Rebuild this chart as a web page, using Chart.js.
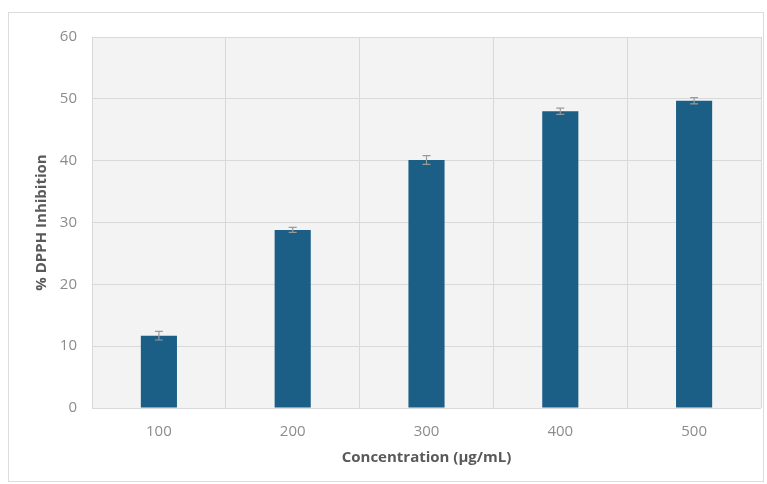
<!DOCTYPE html>
<html>
<head>
<meta charset="utf-8">
<script src="https://cdn.jsdelivr.net/npm/chart.js@4"></script>
<style>
  body { margin: 0; background: #fff; }
  #frame {
    position: absolute; left: 8px; top: 12px;
    width: 756px; height: 470px;
    border: 1px solid #dcdcdc; box-sizing: border-box;
  }
  #wrap { position: relative; width: 754px; height: 468px; }
</style>
</head>
<body>
<div id="frame"><div id="wrap"><canvas id="dpphChart"></canvas></div></div>
<script>
const concentrations = ['100', '200', '300', '400', '500'];
const inhibition =     [11.7, 28.8, 40.1, 48.0, 49.7];
const errors =         [0.7, 0.4, 0.7, 0.5, 0.5];
const yTicks =         [0, 10, 20, 30, 40, 50, 60];

const tickColor = '#8c8c8c';
const titleColor = '#595959';

// grey plot background
const plotBg = {
    id: 'plotBg',
    beforeDraw(chart) {
        const a = chart.chartArea;
        const ctx = chart.ctx;
        ctx.save();
        ctx.fillStyle = '#f3f3f3';
        ctx.fillRect(a.left, a.top, a.right - a.left, a.bottom - a.top);
        ctx.restore();
    }
};

// small error bars on top of each bar
const errorBars = {
    id: 'errorBars',
    afterDatasetsDraw(chart) {
        const ctx = chart.ctx;
        const y = chart.scales.y;
        const meta = chart.getDatasetMeta(0);
        ctx.save();
        ctx.strokeStyle = '#9a9a9a';
        ctx.lineWidth = 1.2;
        meta.data.forEach((bar, i) => {
            const hi = y.getPixelForValue(inhibition[i] + errors[i]);
            const lo = y.getPixelForValue(inhibition[i] - errors[i]);
            ctx.beginPath();
            ctx.moveTo(bar.x, hi); ctx.lineTo(bar.x, lo);
            ctx.moveTo(bar.x - 4, hi); ctx.lineTo(bar.x + 4, hi);
            ctx.moveTo(bar.x - 4, lo); ctx.lineTo(bar.x + 4, lo);
            ctx.stroke();
        });
        ctx.restore();
    }
};

new Chart(document.querySelector('#dpphChart'), {
    type: 'bar',
    data: {
        labels: concentrations,
        datasets: [{
            data: inhibition,
            backgroundColor: '#1b5e86',
            barPercentage: 0.27,
            categoryPercentage: 1
        }]
    },
    options: {
        responsive: true,
        maintainAspectRatio: false,
        animation: false,
        layout: { padding: { left: 20, top: 20, right: 2, bottom: 10 } },
        plugins: { legend: { display: false }, tooltip: { enabled: false } },
        scales: {
            x: {
                grid: { color: '#d9d9d9', offset: true, drawTicks: false },
                border: { display: false },
                ticks: { color: tickColor, padding: 15, font: { family: 'Open Sans', size: 15 } },
                title: {
                    display: true,
                    text: 'Concentration (µg/mL)',
                    color: titleColor,
                    padding: { top: 4 },
                    font: { family: 'Open Sans', size: 15, weight: 'bold' }
                },
                afterFit(scale) { scale.height = 63; }
            },
            y: {
                min: 0,
                max: 60,
                afterBuildTicks(scale) { scale.ticks = yTicks.map(v => ({ value: v })); },
                grid: { color: '#d9d9d9', drawTicks: false },
                border: { display: false },
                ticks: { color: tickColor, padding: 15, font: { family: 'Open Sans', size: 15 } },
                title: {
                    display: true,
                    text: '% DPPH Inhibition',
                    color: titleColor,
                    padding: { bottom: 4 },
                    font: { family: 'Open Sans', size: 15, weight: 'bold' }
                },
                afterFit(scale) { scale.width = 63; }
            }
        }
    },
    plugins: [plotBg, errorBars]
});
</script>
</body>
</html>
